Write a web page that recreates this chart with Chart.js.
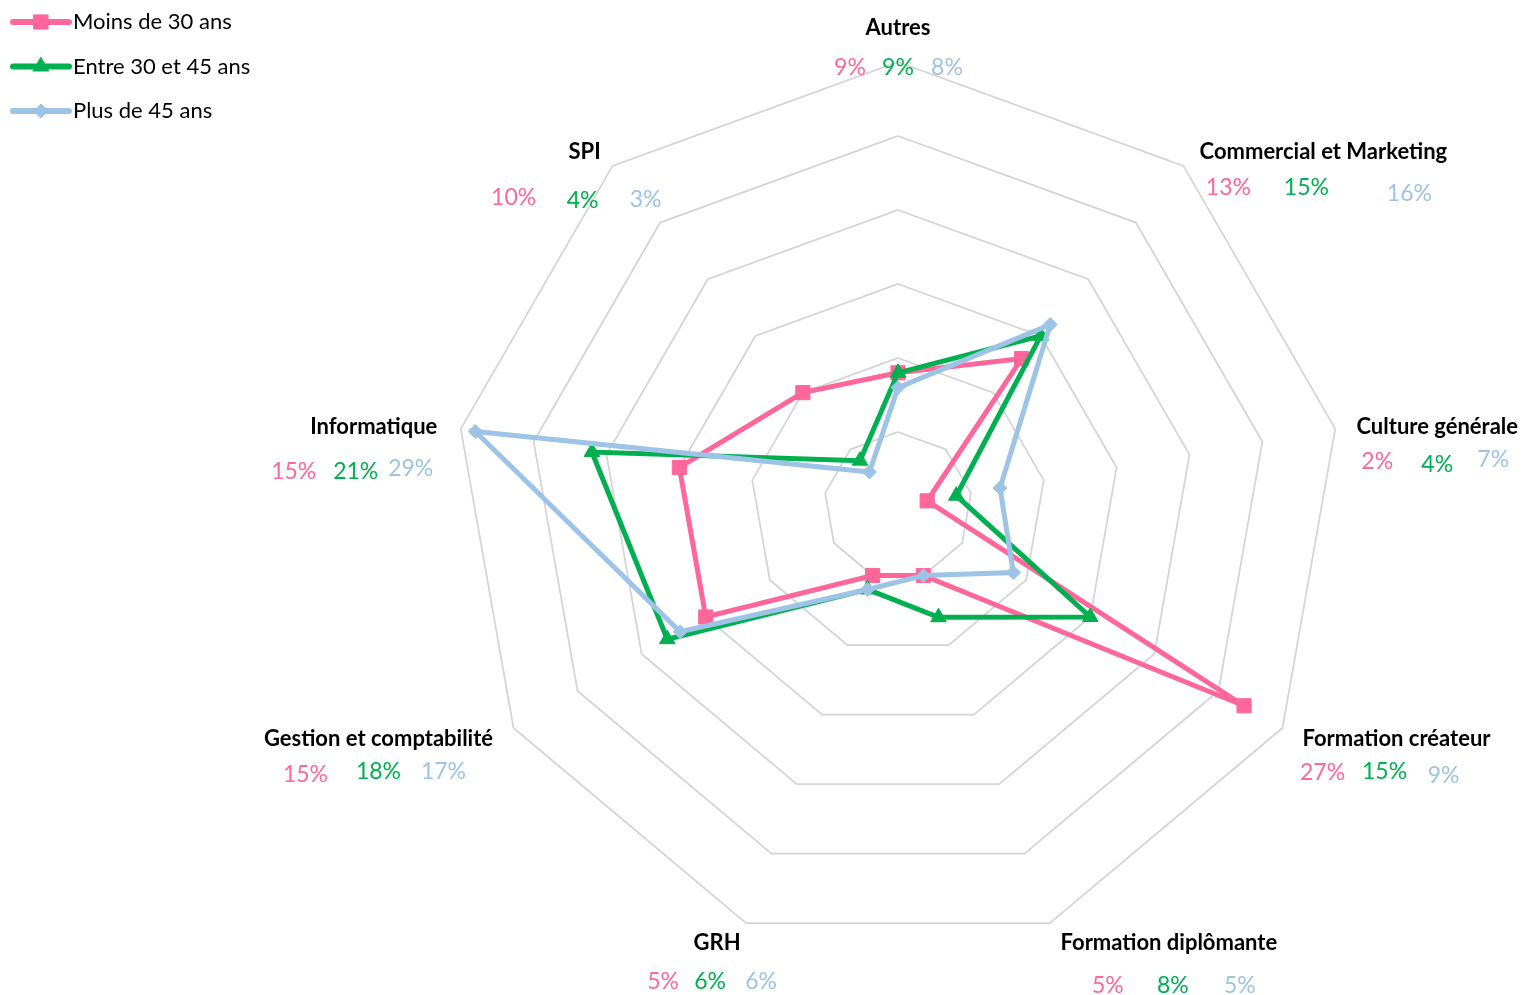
<!DOCTYPE html>
<html>
<head>
<meta charset="utf-8">
<title>Formations par tranche d'âge</title>
<script src="https://cdn.jsdelivr.net/npm/chart.js@4"></script>
<style>
  html, body { margin: 0; padding: 0; background: #fff; }
  #wrap { position: relative; width: 1524px; height: 995px; }
</style>
</head>
<body>
<div id="wrap"><canvas id="radar"></canvas></div>
<script>
// categories, clockwise from the top
const categories = [
    "Autres",
    "Commercial et Marketing",
    "Culture générale",
    "Formation créateur",
    "Formation diplômante",
    "GRH",
    "Gestion et comptabilité",
    "Informatique",
    "SPI",
];
const seriesNames = ["Moins de 30 ans", "Entre 30 et 45 ans", "Plus de 45 ans"];
const moins30 = [9, 13, 2, 27, 5, 5, 15, 15, 10];
const entre30et45 = [9, 15, 4, 15, 8, 6, 18, 21, 4];
const plus45 = [8, 16, 7, 9, 5, 6, 17, 29, 3];
const scaleMin = 0;
const scaleMax = 30;
const scaleStep = 5;

const FONT = "Lato, 'Open Sans', sans-serif";
const colors = ["#FF6699", "#00B050", "#9DC3E6"];

// label block per axis: name centre offset from the outer vertex,
// then the three percentage offsets from the name centre
const labelLayout = [
    { name: [0, -34], pcts: [[-48, 40], [0, 40], [49, 40]] },
    { name: [140, -14], pcts: [[-95, 36], [-17, 36], [86, 42]] },
    { name: [102, -2], pcts: [[-60, 35], [0, 38], [56, 33]] },
    { name: [114, 11], pcts: [[-74, 34], [-12, 33], [47, 37]] },
    { name: [119, 20], pcts: [[-61, 42], [4, 42], [71, 42]] },
    { name: [-29, 20], pcts: [[-54, 38], [-7, 38], [44, 38]] },
    { name: [-135, 11], pcts: [[-73, 36], [0, 33], [65, 33]] },
    { name: [-87, -2], pcts: [[-80, 45], [-18, 45], [37, 42]] },
    { name: [-28, -14], pcts: [[-71, 46], [-2, 49], [61, 48]] },
];

const legendLayout = { lineFrom: 13, lineTo: 69, textX: 73, top: 22, step: 44.5 };

function makeSeries(label, data, color, pointStyle, radius, order) {
    return {
        label,
        data,
        borderColor: color,
        backgroundColor: color,
        borderWidth: 5,
        fill: false,
        tension: 0,
        pointStyle,
        pointRadius: radius,
        pointHoverRadius: radius,
        pointBackgroundColor: color,
        pointBorderColor: color,
        pointBorderWidth: 1,
        order,
    };
}

const axisLabels = {
    id: "axisLabels",
    afterDraw(chart) {
        const scale = chart.scales.r;
        const ctx = chart.ctx;
        ctx.save();
        ctx.textAlign = "center";
        ctx.textBaseline = "middle";
        categories.forEach((name, i) => {
            const v = scale.getPointPosition(i, scale.drawingArea);
            const lay = labelLayout[i];
            const nx = v.x + lay.name[0];
            const ny = v.y + lay.name[1];
            ctx.font = `bold 22px ${FONT}`;
            ctx.fillStyle = "#000";
            ctx.fillText(name, nx, ny);
            ctx.font = `23px ${FONT}`;
            chart.data.datasets.forEach((ds, k) => {
                const [dx, dy] = lay.pcts[k];
                ctx.fillStyle = ds.borderColor;
                ctx.fillText(`${ds.data[i]}%`, nx + dx, ny + dy);
            });
        });
        ctx.restore();
    },
};

const lineLegend = {
    id: "lineLegend",
    afterDraw(chart) {
        const ctx = chart.ctx;
        const L = legendLayout;
        ctx.save();
        chart.data.datasets.forEach((ds, k) => {
            const y = L.top + k * L.step;
            ctx.strokeStyle = ds.borderColor;
            ctx.fillStyle = ds.borderColor;
            ctx.lineWidth = 6;
            ctx.lineCap = "round";
            ctx.beginPath();
            ctx.moveTo(L.lineFrom, y);
            ctx.lineTo(L.lineTo, y);
            ctx.stroke();
            ctx.lineWidth = 1;
            Chart.helpers.drawPoint(
                ctx,
                { pointStyle: ds.pointStyle, radius: ds.pointRadius, rotation: 0, borderWidth: 1 },
                (L.lineFrom + L.lineTo) / 2,
                y
            );
            ctx.fillStyle = "#000";
            ctx.font = `22px ${FONT}`;
            ctx.textAlign = "left";
            ctx.textBaseline = "middle";
            ctx.fillText(ds.label, L.textX, y);
        });
        ctx.restore();
    },
};

new Chart(document.getElementById("radar"), {
    type: "radar",
    data: {
        labels: categories,
        datasets: [
            makeSeries(seriesNames[0], moins30, colors[0], "rect", 10, 3),
            makeSeries(seriesNames[1], entre30et45, colors[1], "triangle", 9, 2),
            makeSeries(seriesNames[2], plus45, colors[2], "rectRot", 7, 1),
        ],
    },
    options: {
        responsive: true,
        maintainAspectRatio: false,
        animation: false,
        layout: { padding: { left: 454, top: 62, right: 182, bottom: 45 } },
        plugins: { legend: { display: false }, tooltip: { enabled: false } },
        scales: {
            r: {
                min: scaleMin,
                max: scaleMax,
                ticks: { display: false, stepSize: scaleStep },
                grid: { circular: false, color: "#D4D4D4", lineWidth: 1.75 },
                angleLines: { display: false },
                pointLabels: { display: false },
            },
        },
    },
    plugins: [axisLabels, lineLegend],
});
</script>
</body>
</html>
